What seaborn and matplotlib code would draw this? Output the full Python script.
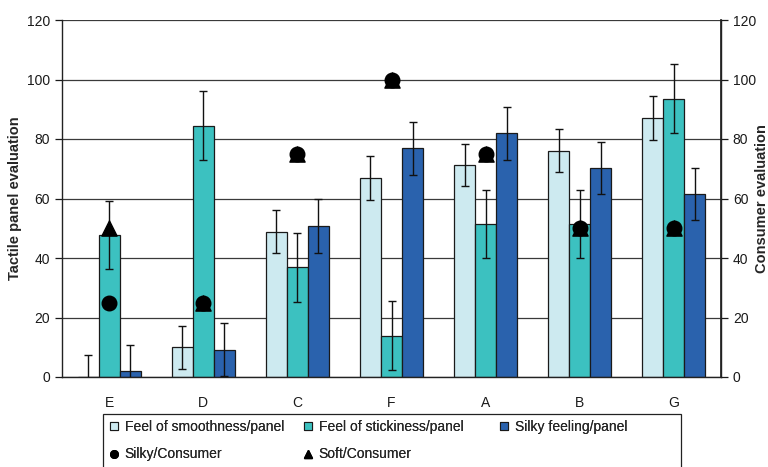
import numpy as np
import pandas as pd
import seaborn as sns
import matplotlib
matplotlib.use("Agg")
import matplotlib.pyplot as plt
from matplotlib.patches import Patch, Rectangle
from matplotlib.lines import Line2D

# Samples in display order
samples = ["E", "D", "C", "F", "A", "B", "G"]

# Tactile panel scores (mean) and error bar half-widths
smoothness = [0.0, 10.0, 48.8, 66.8, 71.2, 76.1, 87.0]
smoothness_err = [7.3, 7.3, 7.2, 7.4, 7.0, 7.1, 7.4]
stickiness = [47.7, 84.5, 36.9, 13.8, 51.5, 51.5, 93.5]
stickiness_err = [11.5, 11.6, 11.6, 11.6, 11.5, 11.5, 11.6]
silky_panel = [1.9, 9.2, 50.7, 76.9, 81.9, 70.3, 61.6]
silky_panel_err = [8.7, 8.8, 9.1, 8.9, 8.9, 8.8, 8.8]

# Consumer scores
silky_consumer = [25, 25, 75, 100, 75, 50, 50]
soft_consumer = [50, 25, 75, 100, 75, 50, 50]

series_names = ["Feel of smoothness/panel", "Feel of stickiness/panel", "Silky feeling/panel"]
series_colors = ["#cdeaf0", "#3cc1c0", "#2a62ad"]

sns.set_theme(style="white")
plt.rcParams["font.family"] = ["Liberation Sans", "DejaVu Sans"]
plt.rcParams["font.size"] = 9

W, H = 768, 467

df = pd.DataFrame({
    "sample": samples * 3,
    "series": np.repeat(series_names, len(samples)),
    "value": smoothness + stickiness + silky_panel,
    "err": smoothness_err + stickiness_err + silky_panel_err,
})

fig = plt.figure(figsize=(W / 100, H / 100), dpi=100)
ax = fig.add_axes([62 / W, 1 - 377 / H, (721 - 62) / W, (377 - 20) / H])

sns.barplot(data=df, x="sample", y="value", hue="series", order=samples,
            hue_order=series_names, palette=series_colors, saturation=1, width=0.67,
            edgecolor="#1a1a1a", linewidth=0.9, errorbar=None, legend=False, ax=ax)

# error bars at each bar's centre
bars = list(ax.patches)
for i, name in enumerate(series_names):
    sub = df[df["series"] == name]
    for j, (v, e) in enumerate(zip(sub["value"], sub["err"])):
        p = bars[i * len(samples) + j]
        xc = p.get_x() + p.get_width() / 2
        ax.errorbar(xc, v, yerr=e, fmt="none", ecolor="#111111", elinewidth=1.0,
                    capsize=3, capthick=1.0, zorder=4)

ax.set_ylim(0, 120)
ax.set_xlim(-0.5, len(samples) - 0.5)
ax.set_yticks(np.arange(0, 121, 20))
ax.yaxis.grid(True, color="#3a3a3a", linewidth=0.9)
ax.set_axisbelow(True)
ax.set_xlabel("")
ax.set_ylabel("Tactile panel evaluation", fontweight="bold", fontsize=10.5)
ax.yaxis.set_label_coords((22 - 62) / 659, 0.5)
ax.set_xticks(np.arange(len(samples)))
ax.set_xticklabels(samples)
ax.set_xticks(np.arange(-0.5, len(samples)), minor=True)
ax.tick_params(axis="x", which="major", length=0, pad=14, labelsize=10, colors="#1a1a1a")
ax.tick_params(axis="x", which="minor", length=6, width=0.9, direction="out", color="#222222")
ax.tick_params(axis="y", length=5, width=0.9, direction="out", left=True, labelsize=10,
               colors="#1a1a1a")
for s in ["left", "right", "bottom"]:
    ax.spines[s].set_color("#222222")
    ax.spines[s].set_linewidth(1.0)
ax.spines["top"].set_visible(False)

# consumer scores on the secondary axis
ax2 = ax.twinx()
xpos = np.arange(len(samples))
ax2.scatter(xpos, soft_consumer, marker="^", s=120, color="black", zorder=5)
ax2.scatter(xpos, silky_consumer, marker="o", s=110, color="black", zorder=6)
ax2.set_ylim(0, 120)
ax2.set_yticks(np.arange(0, 121, 20))
ax2.set_ylabel("Consumer evaluation", fontweight="bold", fontsize=10.5)
ax2.yaxis.set_label_coords((755 - 62) / 659, 0.5)
ax2.tick_params(axis="y", length=5, width=0.9, direction="out", right=True, labelsize=10,
                colors="#1a1a1a")
for s in ["top", "left", "bottom"]:
    ax2.spines[s].set_visible(False)
ax2.spines["right"].set_color("#222222")
ax2.grid(False)

# legend: three columns placed side by side inside one frame
def patch(k):
    return Patch(facecolor=series_colors[k], edgecolor="#1a1a1a", linewidth=0.8,
                 label=series_names[k])

columns = [
    ([patch(0), Line2D([], [], marker="o", color="black", linestyle="none",
                       markersize=5.5, label="Silky/Consumer")], 110),
    ([patch(1), Line2D([], [], marker="^", color="black", linestyle="none",
                       markersize=6, label="Soft/Consumer")], 304),
    ([patch(2)], 500),
]
for handles, x0 in columns:
    leg = fig.legend(handles=handles, loc="upper left",
                     bbox_to_anchor=(x0 / W, 1 - 420 / H), frameon=False,
                     fontsize=10, handlelength=0.55, handleheight=0.55,
                     handletextpad=0.5, labelspacing=0.95,
                     borderpad=0, borderaxespad=0)
    fig.add_artist(leg)

fig.add_artist(Rectangle((103 / W, -0.05), (681 - 103) / W, 0.05 + (1 - 414 / H),
                         transform=fig.transFigure, facecolor="none",
                         edgecolor="#222222", linewidth=0.9, clip_on=False))

fig.savefig("out.png", dpi=100)
